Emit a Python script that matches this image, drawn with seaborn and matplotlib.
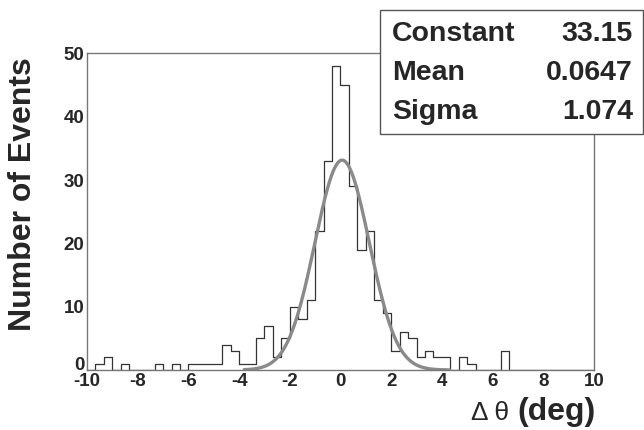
import numpy as np
import pandas as pd
import seaborn as sns
import matplotlib
matplotlib.use("Agg")
import matplotlib.pyplot as plt
import matplotlib.patches as mpatches
from matplotlib.ticker import MultipleLocator

# --- data: 60 bins of 1/3 deg from -10 to 10 ---
bin_lo, bin_hi, n_bins = -10.0, 10.0, 60
counts = [0, 1, 2, 0, 1, 0, 0, 0, 1, 0,
          1, 0, 1, 1, 1, 1, 4, 3, 1, 1,
          5, 7, 2, 5, 10, 8, 11, 22, 33, 48,
          45, 29, 19, 22, 11, 9, 3, 6, 5, 2,
          3, 2, 2, 0, 2, 1, 0, 0, 0, 3,
          0, 0, 0, 0, 0, 0, 0, 0, 0, 0]

# gaussian fit parameters (stats box)
fit_names = ["Constant", "Mean", "Sigma"]
fit_labels = ["33.15", "0.0647", "1.074"]
fit_const, fit_mean, fit_sigma = 33.15, 0.0647, 1.074
fit_range = (-3.8, 4.3)

x_ticks = [-10, -8, -6, -4, -2, 0, 2, 4, 6, 8, 10]
y_ticks = [0, 10, 20, 30, 40, 50]

sns.set_style("white")
plt.rcParams["font.family"] = ["Liberation Sans", "DejaVu Sans"]
plt.rcParams["axes.unicode_minus"] = False

W, H = 644, 430
def px(x, y):
    return x / W, 1 - y / H

edges = np.linspace(bin_lo, bin_hi, n_bins + 1)
centers = (edges[:-1] + edges[1:]) / 2
df = pd.DataFrame({"dtheta": centers, "n": counts})

fig = plt.figure(figsize=(6.44, 4.30), dpi=100)
ax = fig.add_axes([87 / W, 1 - 370 / H, (594 - 87) / W, (370 - 53.5) / H])

sns.histplot(data=df, x="dtheta", weights="n", bins=n_bins, binrange=(bin_lo, bin_hi),
             element="step", fill=False, color="#333333", linewidth=0.9, ax=ax)

xf = np.linspace(fit_range[0], fit_range[1], 300)
fit_df = pd.DataFrame({"x": xf,
                       "y": fit_const * np.exp(-0.5 * ((xf - fit_mean) / fit_sigma) ** 2)})
sns.lineplot(data=fit_df, x="x", y="y", color="#8a8a8a", linewidth=2.4, ax=ax)

ax.set_xlim(bin_lo, bin_hi)
ax.set_ylim(0, 50)
ax.set_xticks(x_ticks)
ax.set_yticks(y_ticks)
ax.xaxis.set_minor_locator(MultipleLocator(0.5))
ax.yaxis.set_minor_locator(MultipleLocator(2))
ax.tick_params(which="both", direction="in", color="#666666", top=False, right=False)
ax.tick_params(which="major", axis="x", length=7.5, pad=2)
ax.tick_params(which="major", axis="y", length=9, pad=2)
ax.tick_params(which="minor", length=4)
for lab in ax.get_xticklabels() + ax.get_yticklabels():
    lab.set_fontweight("bold")
    lab.set_fontsize(13.5)
# ROOT puts the y "0" a bit higher than the x "-10"
ax.get_yticklabels()[0].set_verticalalignment("baseline")
for sp in ax.spines.values():
    sp.set_color("#777777")
    sp.set_linewidth(1.0)
ax.set_xlabel("")
ax.set_ylabel("")

# axis titles
fig.text(*px(23, 194), "Number of Events", rotation=90, ha="center", va="center",
         fontsize=23, fontweight="bold")
fig.text(*px(596, 412), "(deg)", ha="right", va="center", fontsize=23, fontweight="bold")
fig.text(*px(509, 413), "Δ θ", ha="right", va="center", fontsize=19, fontweight="normal")

# stats box
box = mpatches.Rectangle(px(380, 134), (643 - 380) / W, (134 - 10) / H,
                         transform=fig.transFigure, facecolor="white",
                         edgecolor="#555555", linewidth=1.0, zorder=5)
fig.add_artist(box)
for i, (name, val) in enumerate(zip(fit_names, fit_labels)):
    yc = 34 + i * 39
    fig.text(*px(392, yc), name, ha="left", va="center", fontsize=20.5,
             fontweight="bold", zorder=6)
    fig.text(*px(633, yc), val, ha="right", va="center", fontsize=20.5,
             fontweight="bold", zorder=6)

fig.savefig("out.png", dpi=100)
